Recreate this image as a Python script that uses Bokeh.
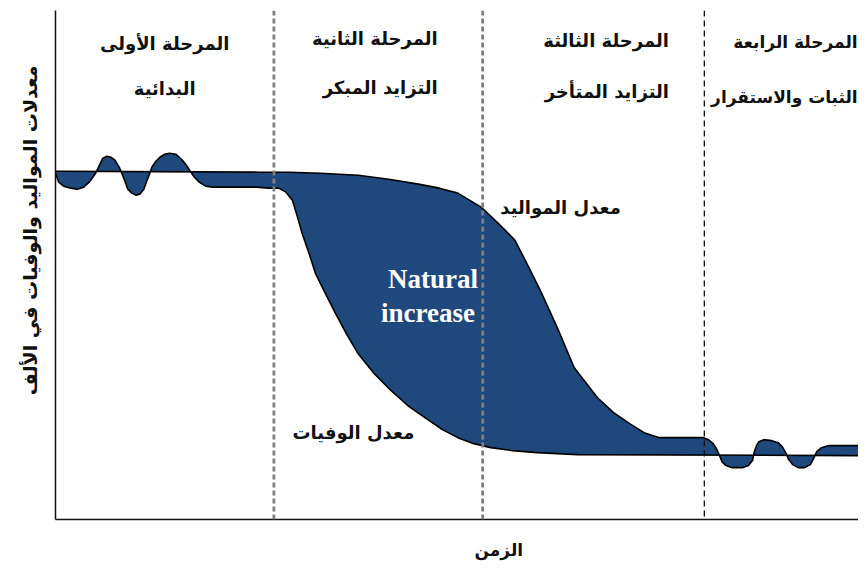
from bokeh.plotting import figure
from bokeh.models import Span, Label, FixedTicker, Title
from bokeh.embed import file_html
from bokeh.resources import INLINE

# ---- data (time in % of the period, rates per thousand) ----
birth_t = [0, 25.4, 29.1, 33.0, 37.7, 41.5, 45.2, 47.8, 50.1, 53.0, 55.1, 57.2, 58.8,
           60.4, 62.5, 64.6, 67.5, 69.5, 71.5, 73.3, 75.2, 77.0, 80.7, 81.3, 81.9,
           82.3, 82.7, 83.0, 83.5, 84.2, 85.6, 86.3, 86.8, 87.0, 87.3, 87.6, 88.2,
           89.2, 90.0, 90.5, 91.0, 91.3, 91.8, 92.5, 93.3, 94.0, 94.4, 94.8, 95.4,
           96.2, 100]
birth_rate = [34.9, 34.8, 34.8, 34.7, 34.5, 34.1, 33.6, 33.2, 32.7, 31.3, 29.7, 28.0,
              25.5, 22.9, 19.2, 15.2, 12.2, 10.7, 9.6, 8.7, 8.2, 8.2, 8.2, 8.0, 7.6,
              7.1, 6.4, 5.8, 5.4, 5.2, 5.2, 5.4, 5.9, 6.7, 7.4, 7.8, 8.0, 7.9, 7.7,
              7.3, 6.6, 6.0, 5.5, 5.2, 5.2, 5.5, 6.1, 6.8, 7.2, 7.4, 7.4]

death_t = [0, 0.4, 1.0, 1.9, 2.7, 3.5, 4.2, 5.0, 5.6, 5.9, 6.4, 6.9, 7.4, 8.0, 8.7,
           9.0, 9.5, 10.0, 10.5, 11.0, 11.4, 11.8, 12.0, 12.5, 13.0, 13.6, 14.2,
           15.0, 15.8, 16.3, 16.7, 17.3, 17.9, 18.7, 19.6, 25.0, 26.6, 27.8, 28.7,
           29.5, 30.1, 30.7, 31.6, 32.4, 33.7, 34.9, 36.3, 37.7, 39.7, 41.8, 43.9,
           46.0, 48.0, 50.1, 52.1, 54.2, 56.9, 60.0, 65.0, 100]
death_rate = [34.7, 33.8, 33.4, 33.2, 33.1, 33.3, 33.8, 34.7, 35.7, 36.2, 36.4, 36.3,
              36.0, 35.2, 33.8, 33.1, 32.7, 32.5, 32.6, 33.1, 34.0, 34.8, 35.3, 35.9,
              36.3, 36.6, 36.7, 36.6, 36.0, 35.5, 35.0, 34.3, 33.8, 33.4, 33.3, 33.3,
              33.2, 33.2, 32.8, 32.0, 30.4, 28.7, 26.6, 24.6, 22.5, 20.6, 18.5, 16.6,
              14.6, 12.9, 11.4, 10.2, 9.1, 8.2, 7.6, 7.2, 6.9, 6.7, 6.5, 6.4]

stage_bounds = [27.2, 53.2, 80.8]
stage_titles = ["المرحلة الأولى", "المرحلة الثانية", "المرحلة الثالثة", "المرحلة الرابعة"]
stage_names = ["البدائية", "التزايد المبكر", "التزايد المتأخر", "الثبات والاستقرار"]
x_title = "الزمن"
y_title = "معدلات المواليد والوفيات في الألف"
birth_label = "معدل المواليد"
death_label = "معدل الوفيات"
gap_label = ["Natural", "increase"]

AR = "DejaVu Sans"
INK = "#111111"

# ---- figure ----
p = figure(width=858, height=561, x_range=(0, 100), y_range=(0, 51),
           output_backend="svg", toolbar_location=None,
           min_border_left=55, min_border_right=0, min_border_top=10,
           min_border_bottom=42)
p.outline_line_color = None
p.grid.visible = False
p.background_fill_color = "white"

for ax in (p.xaxis[0], p.yaxis[0]):
    ax.ticker = FixedTicker(ticks=[])
    ax.major_tick_line_color = None
    ax.minor_tick_line_color = None
    ax.major_label_text_font_size = "0px"
    ax.axis_line_color = INK
    ax.axis_line_width = 1.5

# axis titles placed in the side panels
p.add_layout(Title(text=x_title, align="left", offset=419, standoff=0,
                   padding=dict(left=0, right=0, top=18, bottom=0),
                   text_font=AR, text_font_style="bold", text_font_size="17px",
                   text_color=INK), "below")
p.add_layout(Title(text=y_title, align="right", offset=55, standoff=29,
                   text_font=AR, text_font_style="bold", text_font_size="19px",
                   text_color=INK), "left")

# natural increase area between the two curves
xs = birth_t + death_t[::-1]
ys = birth_rate + death_rate[::-1]
p.patch(xs, ys, fill_color="#1f497d", line_color=None)
p.line(birth_t, birth_rate, line_color="#000000", line_width=1.6)
p.line(death_t, death_rate, line_color="#000000", line_width=1.6)

# stage separators
styles = [("#7f7f7f", 2.8, "5 3"), ("#7f7f7f", 2.8, "5 3"), ("#111111", 1.3, "6 4")]
for b, (c, w, d) in zip(stage_bounds, styles):
    p.add_layout(Span(location=b, dimension="height", line_color=c,
                      line_width=w, line_dash=d))

title_pos = [(13.6, "center"), (47.6, "right"), (76.4, "right"), (99.9, "right")]
title_y = [(47.7, 43.2), (48.2, 43.3), (48.0, 42.9), (47.8, 42.3)]
title_size = ["18px", "18px", "18px", "17px"]
for (tx, al), (y1, y2), t1, t2, fs in zip(title_pos, title_y, stage_titles,
                                           stage_names, title_size):
    for yy, tt in ((y1, t1), (y2, t2)):
        p.add_layout(Label(x=tx, y=yy, text=tt, text_align=al, text_baseline="middle",
                           text_font=AR, text_font_style="bold",
                           text_font_size=fs, text_color=INK))

p.add_layout(Label(x=62.9, y=31.3, text=birth_label, text_align="center",
                   text_baseline="middle", text_font=AR, text_font_style="bold",
                   text_font_size="18px", text_color=INK))
p.add_layout(Label(x=37.1, y=8.7, text=death_label, text_align="center",
                   text_baseline="middle", text_font=AR, text_font_style="bold",
                   text_font_size="18px", text_color=INK))

for (gx, gy), g in zip([(47.0, 24.1), (46.4, 20.7)], gap_label):
    p.add_layout(Label(x=gx, y=gy, text=g, text_align="center", text_baseline="middle",
                       text_font="Liberation Serif", text_font_style="bold",
                       text_font_size="27px", text_color="white"))

open("out.html", "w").write(file_html(p, INLINE))
